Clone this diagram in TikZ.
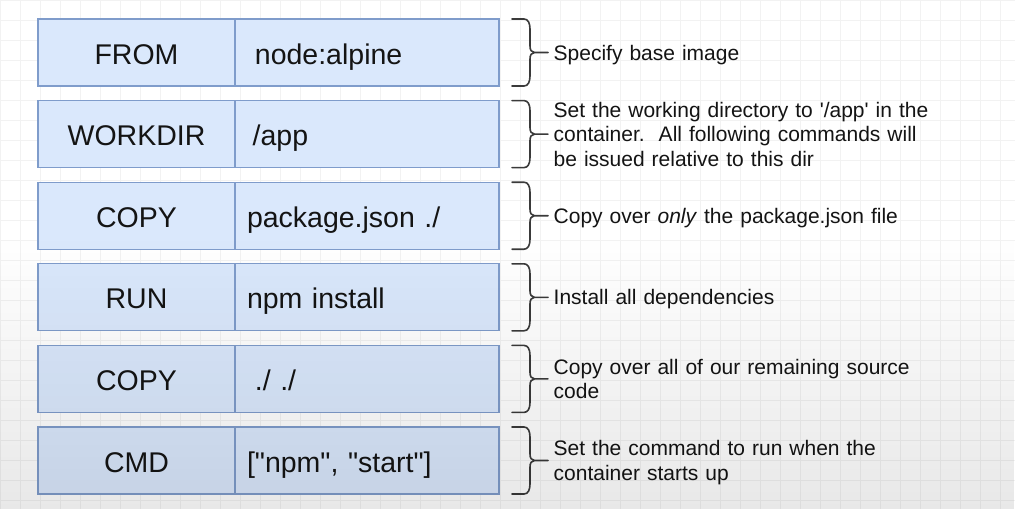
\documentclass[tikz,border=0pt]{standalone}
\usepackage{fontspec}
\setmainfont{Liberation Sans}
\usetikzlibrary{positioning,fadings}
\pgfdeclarelayer{background}
\pgfsetlayers{background,main}

\definecolor{boxfill}{HTML}{DAE8FC}
\definecolor{boxline}{HTML}{7F9CCB}
\definecolor{inktext}{HTML}{141414}
\definecolor{braceink}{HTML}{3A3A3A}
\tikzfading[name=fadedown, top color=transparent!100, bottom color=transparent!0]

\tikzset{
  cmdcell/.style={draw=boxline, fill=boxfill, line width=1.2pt, minimum height=67pt,
    inner ysep=0pt, outer sep=0pt, text height=23pt, text depth=0pt, text=inktext,
    font=\fontsize{28.5}{34}\selectfont},
  keycell/.style={cmdcell, minimum width=197pt, inner xsep=0pt},
  argcell/.style={cmdcell, minimum width=264pt, text width=240pt, inner xsep=12pt, align=left},
  notetext/.style={anchor=base west, inner sep=0pt, text width=440pt, align=left, text=inktext,
    font=\fontsize{21}{24.5}\selectfont},
  rowbrace/.pic={
    \draw[braceink, line width=1.6pt, line cap=round, line join=round]
      (13,0) -- (25,0) .. controls (29,0) and (31,4) .. (31,10) -- (31,27)
      .. controls (31,31) and (32.5,33.5) .. (35.5,33.5)
      .. controls (32.5,33.5) and (31,36) .. (31,40) -- (31,57)
      .. controls (31,63) and (29,67) .. (25,67) -- (13,67)
      (35.5,33.5) -- (49,33.5);
  }
}

\begin{document}
\begin{tikzpicture}[x=1pt,y=-1pt]
\useasboundingbox (0,0) rectangle (1015,509);

\begin{pgfonlayer}{background}
\fill[white] (0,0) rectangle (1015,509);
\draw[black!5, line width=0.6pt, step=20pt] (0,0) grid (1015,509);
\end{pgfonlayer}

% instruction rows
\node[keycell] (fromKey) at (136.5,52.5) {FROM};
\node[argcell, right=0pt of fromKey] (fromArg) {\hspace*{.278em}node:alpine};

\node[keycell] (workdirKey) at (136.5,134.1) {WORKDIR};
\node[argcell, right=0pt of workdirKey] (workdirArg) {\hspace*{.2em}/app};

\node[keycell] (copyKey) at (136.5,215.7) {COPY};
\node[argcell, right=0pt of copyKey] (copyArg) {package.json ./};

\node[keycell] (runKey) at (136.5,297.3) {RUN};
\node[argcell, right=0pt of runKey] (runArg) {npm install};

\node[keycell] (copyallKey) at (136.5,378.9) {COPY};
\node[argcell, right=0pt of copyallKey] (copyallArg) {\hspace*{.278em}./ ./};

\node[keycell] (cmdKey) at (136.5,460.5) {CMD};
\node[argcell, right=0pt of cmdKey] (cmdArg) {[\textquotedbl npm\textquotedbl, \textquotedbl start\textquotedbl]};

% braces
\pic at (fromArg.north east) {rowbrace};
\pic at (workdirArg.north east) {rowbrace};
\pic at (copyArg.north east) {rowbrace};
\pic at (runArg.north east) {rowbrace};
\pic at (copyallArg.north east) {rowbrace};
\pic at (cmdArg.north east) {rowbrace};

% notes
\node[notetext] (fromNote) at (553.5,60) {Specify base image};
\node[notetext] (workdirNote) at (553.5,117.1) {Set the working directory to \textquotesingle/app\textquotesingle{} in the\\container.\ \ All following commands will\\be issued relative to this dir};
\node[notetext] (copyNote) at (553.5,223.2) {Copy over \textit{only} the package.json file};
\node[notetext] (runNote) at (553.5,304.8) {Install all dependencies};
\node[notetext] (copyallNote) at (553.5,374.2) {Copy over all of our remaining source\\code};
\node[notetext] (cmdNote) at (553.5,455.8) {Set the command to run when the\\container starts up};

\fill[black, opacity=0.09, path fading=fadedown] (0,235) rectangle (1015,509);
\end{tikzpicture}
\end{document}
